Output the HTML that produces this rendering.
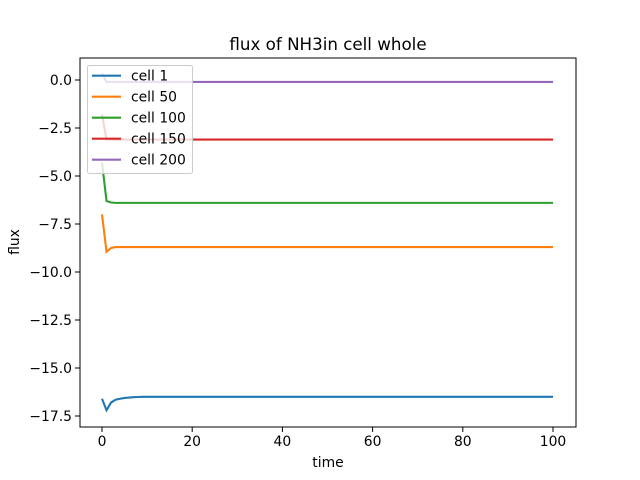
<!DOCTYPE html>
<html><head><meta charset="utf-8"><style>
body{margin:0;background:#fff}
svg{display:block;font-family:"DejaVu Sans","Liberation Sans",sans-serif}
</style></head><body>
<svg id="c" width="640" height="480">
<rect width="640" height="480" fill="#fff"/>
<text x="328" y="50" font-size="16.7" text-anchor="middle">flux of NH3in cell whole</text>
<g id="plot"></g>
<rect x="80" y="58" width="496" height="369" fill="none" stroke="#000" stroke-width="1"/>
<text x="328" y="467" font-size="13.9" text-anchor="middle">time</text>
<text x="0" y="0" font-size="13.9" text-anchor="middle" transform="translate(19,242) rotate(-90)">flux</text>
</svg>
<script>
const xTicks=[0,20,40,60,80,100];
const yTicks=[0,-2.5,-5,-7.5,-10,-12.5,-15,-17.5];
const yTickLabels=["0.0","−2.5","−5.0","−7.5","−10.0","−12.5","−15.0","−17.5"];
const seriesNames=["cell 1","cell 50","cell 100","cell 150","cell 200"];
const colors=["#1f77b4","#ff7f0e","#2ca02c","#d62728","#9467bd"];
const head1=[-16.6,-17.2,-16.8,-16.65,-16.6,-16.56,-16.54,-16.52,-16.51];
const head50=[-7.0,-8.95,-8.75,-8.7];
const head100=[-4.3,-6.3,-6.38];
const head150=[-1.8,-3.1];
const head200=[0.35,-0.1];
const steady=[-16.5,-8.7,-6.4,-3.1,-0.1];
const heads=[head1,head50,head100,head150,head200];
const X=v=>102+(v-0)*(553-102)/100;
const Y=v=>80+(0-v)*(416-80)/17.5;
const NS="http://www.w3.org/2000/svg";
const g=document.getElementById('plot');
function mk(t,a){const e=document.createElementNS(NS,t);for(const k in a)e.setAttribute(k,a[k]);return e;}
xTicks.forEach(t=>{
 const l=mk('line',{x1:X(t),x2:X(t),y1:427,y2:432,stroke:'#000'});
 
 
 g.appendChild(l);
 const tx=mk('text',{x:X(t),y:446,'font-size':13.9,'text-anchor':'middle'});tx.textContent=t;
 
 
 g.appendChild(tx);
});
yTicks.forEach((t,i)=>{
 const l=mk('line',{x1:75,x2:80,y1:Y(t),y2:Y(t),stroke:'#000'});
 
 
 g.appendChild(l);
 const tx=mk('text',{x:72,y:Y(t)+5,'font-size':13.9,'text-anchor':'end'});tx.textContent=yTickLabels[i];
 
 
 g.appendChild(tx);
});
seriesNames.forEach((n,i)=>{
 const vals=[];for(let t=0;t<=100;t++)vals.push(t<heads[i].length?heads[i][t]:steady[i]);
 const p=mk('polyline',{points:vals.map((v,t)=>X(t)+','+Y(v)).join(' '),fill:'none',stroke:colors[i],'stroke-width':2.1});
 
 
 g.appendChild(p);
});
const lg=mk('g',{});


lg.appendChild(mk('rect',{x:87.5,y:65.5,width:105,height:108,rx:2,fill:'#fff','fill-opacity':0.8,stroke:'#ccc'}));
seriesNames.forEach((n,i)=>{
 const y=75.7+i*21;
 lg.appendChild(mk('line',{x1:92,x2:121,y1:y,y2:y,stroke:colors[i],'stroke-width':2.1}));
 const tx=mk('text',{x:131,y:y+5,'font-size':13.9});tx.textContent=n;
 
 
 lg.appendChild(tx);
});
g.appendChild(lg);
</script>
</body></html>
